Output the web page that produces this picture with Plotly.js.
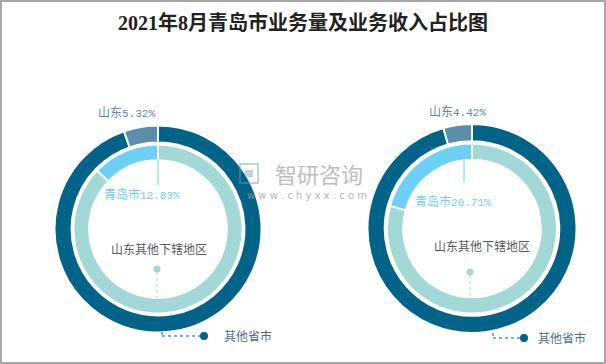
<!DOCTYPE html>
<html>
<head>
<meta charset="utf-8">
<script src="https://cdn.plot.ly/plotly-3.0.1.min.js"></script>
<style>
html,body{margin:0;padding:0;background:#fff;}
#chart{width:606px;height:364px;}
</style>
</head>
<body>
<div id="chart"></div>
<script>
// ---- data ----
var chartTitle = "2021年8月青岛市业务量及业务收入占比图";
var outerLabels = ["其他省市", "山东"];
var innerLabels = ["山东其他下辖地区", "青岛市"];
var outerValuesLeft = [94.68, 5.32];
var innerValuesLeft = [87.17, 12.83];
var outerValuesRight = [95.58, 4.42];
var innerValuesRight = [79.29, 20.71];

// ---- style ----
var W = 606, H = 364;
var cDark = "#006387", cShan = "#5b8fa9", cQing = "#6ccff6", cOther = "#a2d8d6";
function px(x){ return x / W; }
function py(y){ return 1 - y / H; }
function dom(cx, cy, r){
  return {x:[px(cx - r), px(cx + r)], y:[py(cy + r), py(cy - r)]};
}
function pie(vals, labels, colors, d, hole){
  return {
    type:"pie", values:vals, labels:labels, domain:d, hole:hole,
    sort:false, direction:"clockwise", rotation:0,
    textinfo:"none", hoverinfo:"none", showlegend:false,
    marker:{colors:colors, line:{color:"#ffffff", width:2}}
  };
}
var L = {cx:158, cy:229}, R = {cx:472, cy:228.5};
var data = [
  pie(outerValuesLeft, outerLabels, [cDark, cShan], dom(L.cx, L.cy, 103.5), 0.835),
  pie(innerValuesLeft, innerLabels, [cOther, cQing], dom(L.cx, L.cy, 84.5), 0.815),
  pie(outerValuesRight, outerLabels, [cDark, cShan], dom(R.cx, R.cy, 104.5), 0.835),
  pie(innerValuesRight, innerLabels, [cOther, cQing], dom(R.cx, R.cy, 85), 0.81)
];

var fontCJK = "Liberation Mono, Noto Sans CJK SC, sans-serif";
function pct(label, v){ return label + '<span style="font-size:11px">' + v.toFixed(2) + '%</span>'; }
function ann(text, x, y, color, xanchor, size){
  return {text:text, x:px(x), y:py(y), xref:"paper", yref:"paper", showarrow:false,
    xanchor:xanchor || "left", yanchor:"middle",
    font:{family:fontCJK, size:size || 12, color:color}};
}
var annotations = [
  ann(pct(outerLabels[1], outerValuesLeft[1]), 96, 113, "#5b8aa3"),
  ann(pct(innerLabels[1], innerValuesLeft[1]), 102, 195, cQing),
  ann(innerLabels[0], 159, 250, "#5a5a5a", "center"),
  ann(outerLabels[0], 222, 337, "#4d6f88"),
  ann(pct(outerLabels[1], outerValuesRight[1]), 427, 112, "#5b8aa3"),
  ann(pct(innerLabels[1], innerValuesRight[1]), 413, 202, cQing),
  ann(innerLabels[0], 482, 247, "#5a5a5a", "center"),
  ann(outerLabels[0], 536, 339, "#4d6f88"),
  // watermark
  {text:"智研咨询", x:px(319), y:py(173), xref:"paper", yref:"paper", showarrow:false,
   xanchor:"center", yanchor:"middle", opacity:0.75,
   font:{family:"Noto Sans CJK SC", size:22, color:"#a9a9a9"}},
  {text:"w w w . c h y x x . c o m", x:px(307), y:py(195), xref:"paper", yref:"paper", showarrow:false,
   xanchor:"center", yanchor:"middle", opacity:0.75,
   font:{family:"DejaVu Sans", size:10, color:"#a0a0a0"}}
];

function line(x0,y0,x1,y1,color,dash){
  return {type:"line", xref:"paper", yref:"paper", x0:px(x0), y0:py(y0), x1:px(x1), y1:py(y1),
    line:{color:color, width:1, dash:dash || "solid"}, layer:"above"};
}
function dot(x,y,r,color){
  return {type:"circle", xref:"paper", yref:"paper", x0:px(x-r), x1:px(x+r), y0:py(y+r), y1:py(y-r),
    fillcolor:color, line:{width:0}, layer:"above"};
}
var shapes = [
  line(158,160,158,185,cQing),
  line(157,272,157,298,cOther,"dot"),
  dot(157,269,3.5,cOther),
  line(162,332,162,336,cDark,"dot"),
  line(162,336,201,336,cDark,"dot"),
  dot(204,336,4,cDark),
  line(464,160,464,182,cQing),
  line(470,275,470,298,cOther,"dot"),
  dot(470,272,3.5,cOther),
  line(493,333,493,338,cDark,"dot"),
  line(493,338,520,338,cDark,"dot"),
  dot(524,338,4,cDark),
  // watermark logo
  {type:"rect", xref:"paper", yref:"paper", x0:px(240), x1:px(258), y0:py(183), y1:py(164),
   line:{color:"rgba(120,150,190,0.45)", width:2}, fillcolor:"rgba(0,0,0,0)", layer:"above"},
  {type:"rect", xref:"paper", yref:"paper", x0:px(245), x1:px(253), y0:py(177), y1:py(170),
   line:{width:0}, fillcolor:"rgba(120,150,190,0.45)", layer:"above"},
  // frame
  {type:"rect", xref:"paper", yref:"paper", x0:0.0015, x1:0.9985, y0:0.0025, y1:0.9975,
   line:{color:"#a6a6a6", width:2}, fillcolor:"rgba(0,0,0,0)", layer:"above"}
];

var layout = {
  width:W, height:H,
  margin:{l:0, r:0, t:0, b:0},
  paper_bgcolor:"#ffffff",
  title:{text:"<b>" + chartTitle + "</b>", x:0.5, xanchor:"center", xref:"paper", y:1 - 23/H, yref:"container", yanchor:"middle",
    font:{family:"Liberation Serif, Noto Sans CJK SC, serif", size:20, color:"#222222"}},
  annotations:annotations,
  shapes:shapes
};
Plotly.newPlot("chart", data, layout, {staticPlot:true, displayModeBar:false});
</script>
</body>
</html>
